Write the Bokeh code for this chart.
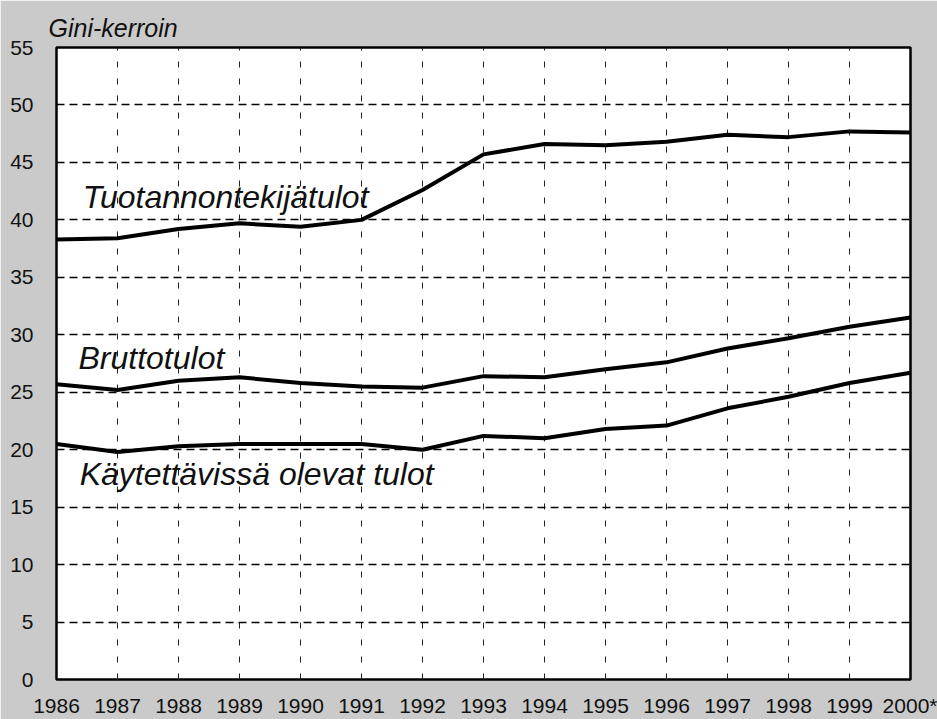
from bokeh.plotting import figure
from bokeh.models import FixedTicker, Range1d, Label
from bokeh.embed import file_html
from bokeh.resources import INLINE

years = list(range(1986, 2001))
year_labels = [str(y) for y in years[:-1]] + ["2000*"]
tuotannontekijatulot = [38.3, 38.4, 39.2, 39.7, 39.4, 40.0, 42.6, 45.7, 46.6, 46.5, 46.8, 47.4, 47.2, 47.7, 47.6]
bruttotulot = [25.7, 25.2, 26.0, 26.3, 25.8, 25.5, 25.4, 26.4, 26.3, 27.0, 27.6, 28.8, 29.7, 30.7, 31.5]
kaytettavissa = [20.5, 19.8, 20.3, 20.5, 20.5, 20.5, 20.0, 21.2, 21.0, 21.8, 22.1, 23.6, 24.6, 25.8, 26.7]
y_ticks = list(range(0, 60, 5))

series_names = ["Tuotannontekijätulot", "Bruttotulot", "Käytettävissä olevat tulot"]

BG = "#cacaca"
FONT = "Liberation Sans"

p = figure(width=937, height=719, output_backend="svg", toolbar_location=None,
           x_range=Range1d(1986, 2000), y_range=Range1d(0, 55),
           min_border_left=56, min_border_right=27, min_border_top=47, min_border_bottom=40)
p.background_fill_color = "white"
p.border_fill_color = BG
p.outline_line_color = "black"
p.outline_line_width = 2.5

p.title.text = "Gini-kerroin"
p.title.align = "left"
p.title.offset = -8
p.title.text_font = FONT
p.title.text_font_size = "25px"
p.title.text_font_style = "italic"
p.title.text_color = "#111111"
p.title.standoff = 11

for ys in (tuotannontekijatulot, bruttotulot, kaytettavissa):
    p.line(years, ys, line_color="black", line_width=4)

p.xaxis.ticker = FixedTicker(ticks=years)
p.xaxis.major_label_overrides = {y: l for y, l in zip(years, year_labels)}
p.yaxis.ticker = FixedTicker(ticks=y_ticks)
for ax in (p.xaxis[0], p.yaxis[0]):
    ax.axis_line_color = None
    ax.major_tick_line_color = None
    ax.minor_tick_line_color = None
    ax.major_label_text_font = FONT
    ax.major_label_text_font_size = "21px"
    ax.major_label_text_color = "#111111"
p.xaxis.major_label_standoff = 8
p.yaxis.major_label_standoff = 17

p.xgrid.grid_line_color = "#222222"
p.xgrid.grid_line_width = 1
p.xgrid.grid_line_dash = "6 11"
p.ygrid.grid_line_color = "black"
p.ygrid.grid_line_width = 1.5
p.ygrid.grid_line_dash = "8 5"

label_pos = [(1986.43, 42.0), (1986.36, 28.0), (1986.38, 17.9)]
for name, (lx, ly) in zip(series_names, label_pos):
    p.add_layout(Label(x=lx, y=ly, text=name, text_font=FONT, text_font_size="32px",
                       text_font_style="italic", text_color="#111111", text_baseline="alphabetic"))

open("out.html", "w").write(file_html(p, INLINE))
